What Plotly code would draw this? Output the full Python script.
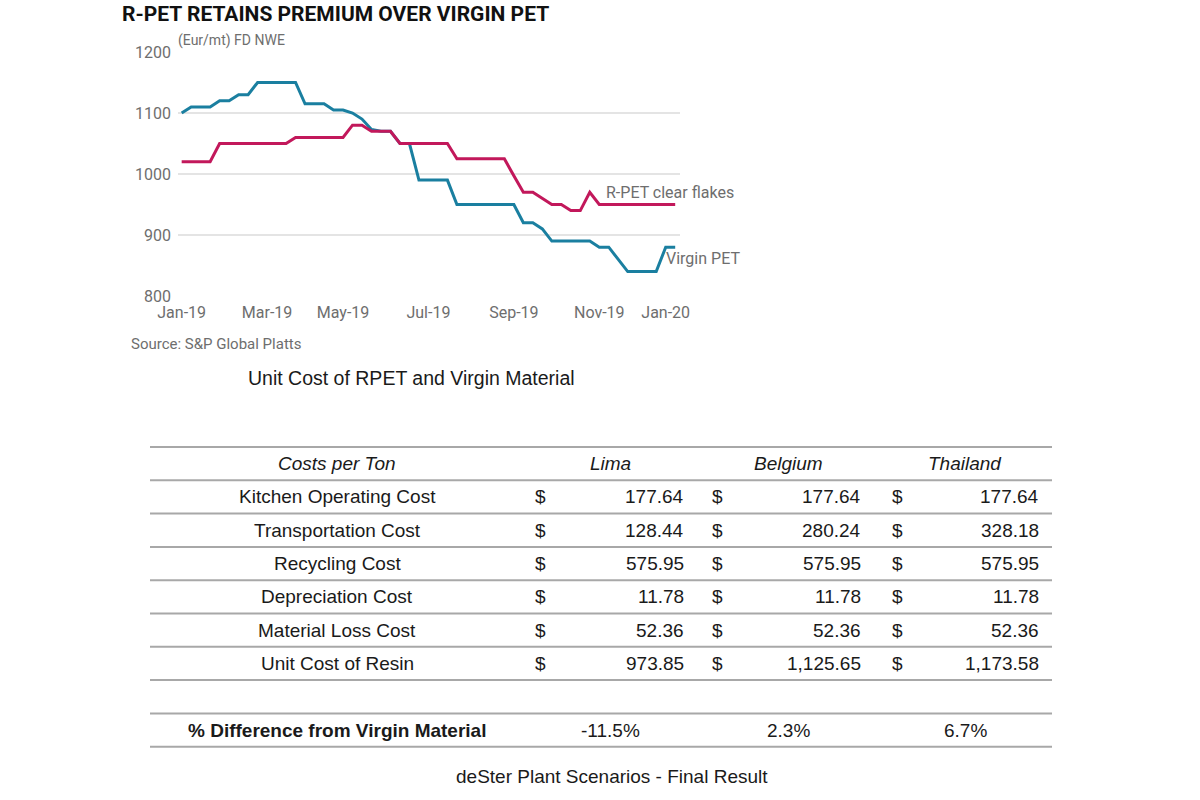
import plotly.graph_objects as go
import pandas as pd

# ---------------- data ----------------
weeks = pd.date_range("2019-01-01", periods=53, freq="7D")

virgin_pet = [1100, 1110, 1110, 1110, 1120, 1120, 1130, 1130, 1150, 1150,
              1150, 1150, 1150, 1115, 1115, 1115, 1105, 1105, 1100, 1090,
              1073, 1070, 1070, 1050, 1050, 990, 990, 990, 990, 950,
              950, 950, 950, 950, 950, 950, 920, 920, 910, 890,
              890, 890, 890, 890, 880, 880, 860, 840, 840, 840,
              840, 880, 880]

rpet_flakes = [1020, 1020, 1020, 1020, 1050, 1050, 1050, 1050, 1050, 1050,
               1050, 1050, 1060, 1060, 1060, 1060, 1060, 1060, 1080, 1080,
               1070, 1070, 1070, 1050, 1050, 1050, 1050, 1050, 1050, 1025,
               1025, 1025, 1025, 1025, 1025, 997, 970, 970, 960, 950,
               950, 940, 940, 970, 950, 950, 950, 950, 950, 950,
               950, 950, 950]

tick_dates = ["2019-01-01", "2019-03-05", "2019-04-30", "2019-07-02",
              "2019-09-03", "2019-11-05", "2019-12-24"]
tick_labels = ["Jan-19", "Mar-19", "May-19", "Jul-19", "Sep-19", "Nov-19", "Jan-20"]
y_ticks = [800, 900, 1000, 1100, 1200]

# table data
table_header = ["Costs per Ton", "Lima", "Belgium", "Thailand"]
cost_items = ["Kitchen Operating Cost", "Transportation Cost", "Recycling Cost",
              "Depreciation Cost", "Material Loss Cost", "Unit Cost of Resin"]
lima = ["177.64", "128.44", "575.95", "11.78", "52.36", "973.85"]
belgium = ["177.64", "280.24", "575.95", "11.78", "52.36", "1,125.65"]
thailand = ["177.64", "328.18", "575.95", "11.78", "52.36", "1,173.58"]
diff_label = "% Difference from Virgin Material"
diff_values = ["-11.5%", "2.3%", "6.7%"]

# ---------------- layout helpers ----------------
W, H = 1200, 800
def px(x):
    return x / W
def py(y):
    return 1 - y / H

TEAL = "#1a7fa0"
MAGENTA = "#c2185b"
GREY = "#6e6e6e"

fig = go.Figure()
fig.add_trace(go.Scatter(x=weeks, y=virgin_pet, mode="lines",
                         line=dict(color=TEAL, width=3), name="Virgin PET"))
fig.add_trace(go.Scatter(x=weeks, y=rpet_flakes, mode="lines",
                         line=dict(color=MAGENTA, width=3), name="R-PET clear flakes"))

fig.update_layout(
    width=W, height=H,
    margin=dict(l=0, r=0, t=0, b=0, autoexpand=False),
    paper_bgcolor="white", plot_bgcolor="white",
    showlegend=False,
    xaxis=dict(domain=[px(178), px(680)], type="date", automargin=False,
               range=["2018-12-29T07:00", "2020-01-03T13:00"],
               tickvals=tick_dates, ticktext=tick_labels,
               showgrid=False, zeroline=False, showline=False, ticks="",
               ticklabelstandoff=5,
               tickfont=dict(family="Roboto", size=16, color=GREY)),
    yaxis=dict(domain=[py(296), py(52)], range=[800, 1200], automargin=False,
               tickvals=y_ticks, showgrid=True, gridcolor="#e4e4e4", gridwidth=1.5,
               zeroline=False, showline=False, ticks="", ticklabelstandoff=6,
               tickfont=dict(family="Roboto", size=16, color=GREY)),
)

ann = []
def text(x, y, s, size=19, color="#1a1a1a", family="Liberation Sans", xanchor="center"):
    ann.append(dict(x=px(x), y=py(y), xref="paper", yref="paper", text=s,
                    showarrow=False, xanchor=xanchor, yanchor="middle",
                    font=dict(family=family, size=size, color=color)))

# chart texts
text(120, 14, "<b>R-PET RETAINS PREMIUM OVER VIRGIN PET</b>", size=21,
     color="#111", family="Roboto", xanchor="left")
text(176, 40, "(Eur/mt) FD NWE", size=14, color=GREY, family="Roboto", xanchor="left")
text(604, 193, "R-PET clear flakes", size=16, color=GREY, family="Roboto", xanchor="left")
text(664, 258, "Virgin PET", size=16, color=GREY, family="Roboto", xanchor="left")
text(129, 344, "Source: S&amp;P Global Platts", size=15, color=GREY, family="Roboto", xanchor="left")
text(411, 378, "Unit Cost of RPET and Virgin Material", size=19.5)

# table geometry
top, row_h = 447, 33.3
x_left, x_right = 150, 1052
label_cx = 337
head_cx = [610, 788, 965]
dollar_x = [540, 717, 897]
value_rx = [686, 863, 1041]

shapes = []
for k in range(10):
    y = top + k * row_h
    shapes.append(dict(type="line", xref="paper", yref="paper",
                       x0=px(x_left), x1=px(x_right), y0=py(y), y1=py(y),
                       line=dict(color="#a8a8a8", width=2)))

def row_c(k):
    return top + (k + 0.5) * row_h

text(label_cx, row_c(0), "<i>" + table_header[0] + "</i>")
for j in range(3):
    text(head_cx[j], row_c(0), "<i>" + table_header[j + 1] + "</i>")

cols = [lima, belgium, thailand]
for i, item in enumerate(cost_items):
    yc = row_c(i + 1)
    text(label_cx, yc, item)
    for j in range(3):
        text(dollar_x[j], yc, "$")
        text(value_rx[j], yc, cols[j][i], xanchor="right")

text(label_cx, row_c(8), "<b>" + diff_label + "</b>")
for j in range(3):
    text(head_cx[j], row_c(8), diff_values[j])

text(612, 776, "deSter Plant Scenarios - Final Result", size=19)

fig.update_layout(annotations=ann, shapes=shapes)
fig.write_html("out.html")
